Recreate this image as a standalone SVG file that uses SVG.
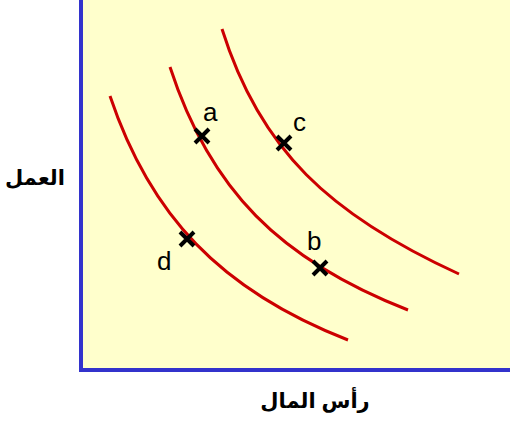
<svg xmlns="http://www.w3.org/2000/svg" width="510" height="421" viewBox="0 0 510 421">
<style>
.curve{fill:none;stroke:#CC0000;stroke-width:3}
.mk{stroke:#000;stroke-width:4;fill:none}
.lbl{font-family:"Liberation Sans",Arial,sans-serif;font-size:26px;fill:#000}
.ar{font-family:"Liberation Sans","DejaVu Sans",sans-serif;font-size:21px;font-weight:bold;fill:#000}
.axis{stroke:#3333CC;stroke-width:4;fill:none}
</style>
<rect x="81" y="0" width="429" height="370" fill="#FFFFCC"/>
<g id="axes">
<path class="axis" d="M81,0 V370 H510"/>
</g>
<g id="connectors">
<path class="curve" d="M110,96 C150,215 220,290 348,340"/>
<path class="curve" d="M170,67 C210,190 280,260 408,310"/>
<path class="curve" d="M222,29 C260,150 330,215 459,274"/>
</g>
<g id="a"><path class="mk" d="M195,129 l14,14 M209,129 l-14,14"/><text class="lbl" x="203" y="121">a</text></g>
<g id="c"><path class="mk" d="M277,136 l14,14 M291,136 l-14,14"/><text class="lbl" x="293" y="131">c</text></g>
<g id="b"><path class="mk" d="M313,261 l14,14 M327,261 l-14,14"/><text class="lbl" x="307" y="250">b</text></g>
<g id="d"><path class="mk" d="M180,232 l14,14 M194,232 l-14,14"/><text class="lbl" x="157" y="270">d</text></g>
<g id="ylabel"><text class="ar" x="35" y="185" text-anchor="middle" direction="rtl">العمل</text></g>
<g id="xlabel"><text class="ar" x="315" y="408" text-anchor="middle" direction="rtl">رأس المال</text></g>
</svg>
